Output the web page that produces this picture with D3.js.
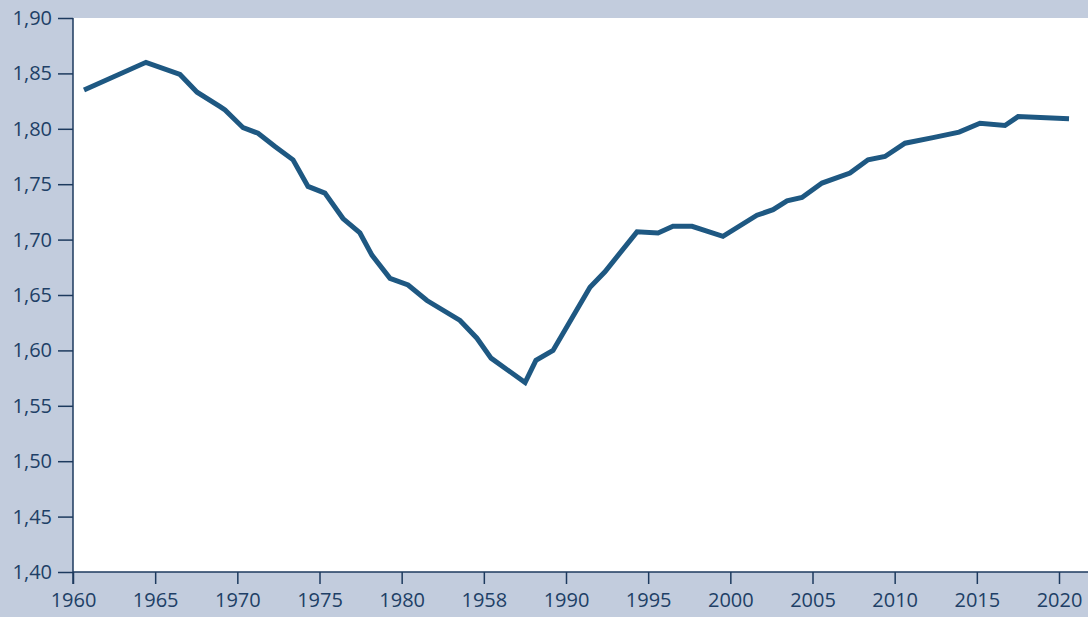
<!DOCTYPE html>
<html>
<head>
<meta charset="utf-8">
<script src="https://cdn.jsdelivr.net/npm/d3@7"></script>
<style>
  body { margin: 0; background: #c2ccdd; }
  svg { display: block; font-family: "Open Sans", "Noto Sans", sans-serif; }
</style>
</head>
<body>
<div id="chart"></div>
<script>
// values (year as fractional position, rate)
var years = [1960.67, 1964.44, 1966.51, 1967.55, 1968.95, 1969.25, 1970.35, 1971.26, 1972.29, 1973.39,
  1974.30, 1975.33, 1976.43, 1977.46, 1978.19, 1979.29, 1980.39, 1981.54, 1983.55, 1984.58,
  1985.44, 1987.51, 1988.17, 1989.21, 1991.46, 1992.37, 1994.32, 1995.60, 1996.51, 1997.67,
  1999.55, 2001.62, 2002.60, 2003.45, 2004.36, 2005.58, 2007.28, 2008.38, 2009.41, 2010.63,
  2012.33, 2013.92, 2015.19, 2016.71, 2017.51, 2020.61];
var values = [1.835, 1.860, 1.849, 1.833, 1.820, 1.817, 1.801, 1.796, 1.784, 1.772,
  1.748, 1.742, 1.719, 1.706, 1.686, 1.665, 1.659, 1.645, 1.627, 1.611,
  1.593, 1.571, 1.591, 1.600, 1.657, 1.671, 1.707, 1.706, 1.712, 1.712,
  1.703, 1.722, 1.727, 1.735, 1.738, 1.751, 1.760, 1.772, 1.775, 1.787,
  1.792, 1.797, 1.805, 1.803, 1.811, 1.809];

var xTicks = [1960, 1965, 1970, 1975, 1980, 1985, 1990, 1995, 2000, 2005, 2010, 2015, 2020];
var xTickLabels = ["1960", "1965", "1970", "1975", "1980", "1958", "1990", "1995", "2000", "2005", "2010", "2015", "2020"];
var yTicks = [1.40, 1.45, 1.50, 1.55, 1.60, 1.65, 1.70, 1.75, 1.80, 1.85, 1.90];

var width = 1088, height = 617;
var margin = {top: 18, right: 0, bottom: 45, left: 73};

var data = years.map(function(y, i) { return {year: y, value: values[i]}; });

var x = d3.scaleLinear()
  .domain([1960, 2020])
  .range([margin.left, 1059]);
var y = d3.scaleLinear()
  .domain([1.40, 1.90])
  .range([height - margin.bottom, margin.top]);

var svg = d3.select("#chart").append("svg")
  .attr("width", width)
  .attr("height", height);

// plot area
svg.append("rect")
  .attr("x", margin.left)
  .attr("y", margin.top)
  .attr("width", width - margin.left - margin.right)
  .attr("height", height - margin.top - margin.bottom)
  .attr("fill", "#ffffff");

var axisColor = "#1d3a5e";
var textColor = "#203f66";

// y axis
var yAxis = svg.append("g")
  .attr("transform", "translate(" + margin.left + ",0)")
  .call(d3.axisLeft(y)
    .tickValues(yTicks)
    .tickSize(15)
    .tickSizeOuter(0)
    .tickPadding(6)
    .tickFormat(function(d) { return d3.format(".2f")(d).replace(".", ","); }));

// x axis
var xAxis = svg.append("g")
  .attr("transform", "translate(0," + (height - margin.bottom) + ")")
  .call(d3.axisBottom(x)
    .tickValues(xTicks)
    .tickSize(12)
    .tickSizeOuter(0)
    .tickPadding(9)
    .tickFormat(function(d, i) { return xTickLabels[i]; }));

xAxis.select(".domain").attr("d", "M" + margin.left + ",0H" + width);
yAxis.select(".domain").attr("d", "M0," + margin.top + "V" + (height - margin.bottom + 12));

[xAxis, yAxis].forEach(function(a) {
  a.selectAll(".domain").attr("stroke", axisColor).attr("stroke-width", 1.5);
  a.selectAll(".tick line").attr("stroke", axisColor).attr("stroke-width", 1.5);
  a.selectAll(".tick text")
    .attr("fill", textColor)
    .style("font-size", "20px")
    .style("font-family", "'Open Sans', 'Noto Sans', sans-serif");
});

// the line
var line = d3.line()
  .x(function(d) { return x(d.year); })
  .y(function(d) { return y(d.value); });

svg.append("path")
  .datum(data)
  .attr("fill", "none")
  .attr("stroke", "#1e5882")
  .attr("stroke-width", 5)
  .attr("stroke-linejoin", "miter")
  .attr("d", line);
</script>
</body>
</html>
